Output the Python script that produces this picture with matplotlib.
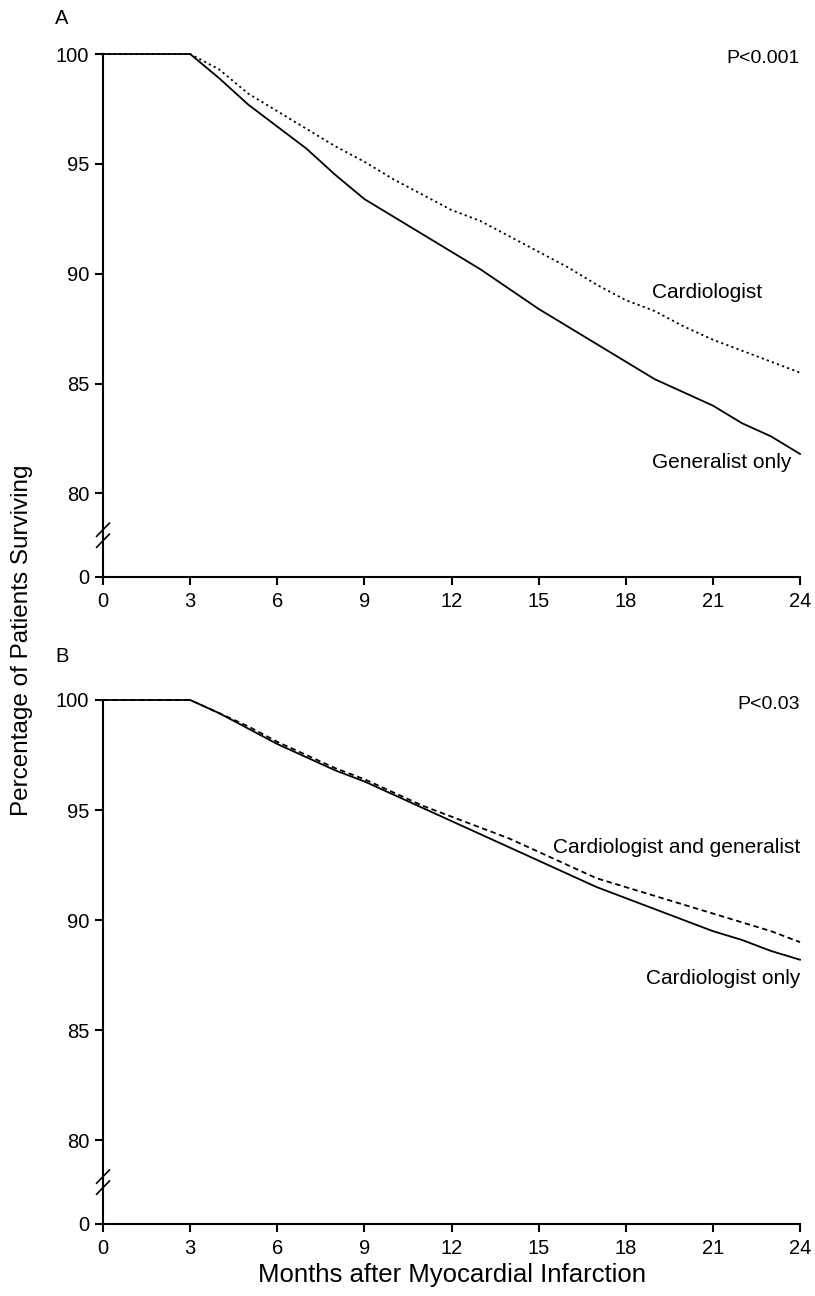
import numpy as np
import matplotlib
matplotlib.use("Agg")
import matplotlib.pyplot as plt

plt.rcParams['font.family'] = ['Liberation Sans', 'DejaVu Sans']

# months after MI
months = [0, 3, 4, 5, 6, 7, 8, 9, 10, 11, 12, 13, 14, 15, 16, 17, 18, 19, 20, 21, 22, 23, 24]

# Panel A: survival (%)
generalist_only = [100, 100, 98.9, 97.7, 96.7, 95.7, 94.5, 93.4, 92.6, 91.8, 91.0, 90.2,
                   89.3, 88.4, 87.6, 86.8, 86.0, 85.2, 84.6, 84.0, 83.2, 82.6, 81.8]
cardiologist = [100, 100, 99.3, 98.2, 97.4, 96.6, 95.8, 95.1, 94.3, 93.6, 92.9, 92.4,
                91.7, 91.0, 90.3, 89.5, 88.8, 88.3, 87.6, 87.0, 86.5, 86.0, 85.5]

# Panel B: survival (%)
cardiologist_only = [100, 100, 99.4, 98.7, 98.0, 97.4, 96.8, 96.3, 95.7, 95.1, 94.5, 93.9,
                     93.3, 92.7, 92.1, 91.5, 91.0, 90.5, 90.0, 89.5, 89.1, 88.6, 88.2]
cardio_and_gen = [100, 100, 99.4, 98.8, 98.1, 97.5, 96.9, 96.4, 95.8, 95.2, 94.7, 94.2,
                  93.7, 93.1, 92.5, 91.9, 91.5, 91.1, 90.7, 90.3, 89.9, 89.5, 89.0]

xticks = [0, 3, 6, 9, 12, 15, 18, 21, 24]
yticks = [80, 85, 90, 95, 100]
ybase = 76.2  # where the "0" of the broken axis sits


def setup_axis(ax):
    ax.set_xlim(0, 24)
    ax.set_ylim(ybase, 100)
    for s in ['top', 'right']:
        ax.spines[s].set_visible(False)
    for s in ['left', 'bottom']:
        ax.spines[s].set_linewidth(1.5)
    ax.set_xticks(xticks)
    ax.set_yticks([ybase] + yticks)
    ax.set_yticklabels(['0'] + [str(t) for t in yticks])
    ax.tick_params(axis='y', length=6, width=1.5, pad=4, labelsize=14.5)
    ax.tick_params(axis='x', length=6, width=1.5, pad=5, labelsize=14.5)
    # axis break marks
    for dy in (-0.25, 0.25):
        ax.plot([-0.22, 0.22], [78.1 + dy - 0.3, 78.1 + dy + 0.3], color='black',
                lw=1.2, clip_on=False)


fig = plt.figure(figsize=(8.15, 12.96), dpi=100)
axA = fig.add_axes([0.1264, 0.5548, 0.8552, 0.4035])
axB = fig.add_axes([0.1264, 0.0556, 0.8552, 0.4043])

# Panel A
axA.plot(months, generalist_only, color='black', lw=1.3, clip_on=False)
axA.plot(months, cardiologist, color='black', lw=1.3, linestyle=(0, (1.2, 1.8)), clip_on=False)
setup_axis(axA)
axA.text(18.9, 89.15, 'Cardiologist', fontsize=15, va='center', ha='left')
axA.text(18.9, 81.4, 'Generalist only', fontsize=15, va='center', ha='left')
axA.text(24, 99.8, 'P<0.001', fontsize=14, va='center', ha='right')

# Panel B
axB.plot(months, cardiologist_only, color='black', lw=1.3, clip_on=False)
axB.plot(months, cardio_and_gen, color='black', lw=1.3, linestyle=(0, (3, 2)), clip_on=False)
setup_axis(axB)
axB.text(24, 93.3, 'Cardiologist and generalist', fontsize=15, va='center', ha='right')
axB.text(24, 87.35, 'Cardiologist only', fontsize=15, va='center', ha='right')
axB.text(24, 99.8, 'P<0.03', fontsize=14, va='center', ha='right')

fig.text(55 / 815, 1 - 19 / 1296, 'A', fontsize=14.5, va='center', ha='left')
fig.text(55 / 815, 1 - 657 / 1296, 'B', fontsize=14.5, va='center', ha='left')
fig.text(22 / 815, 1 - 640 / 1296, 'Percentage of Patients Surviving', fontsize=17.5,
         rotation=90, va='center', ha='center')
fig.text(451.5 / 815, 1 - 1275 / 1296, 'Months after Myocardial Infarction', fontsize=18.5,
         va='center', ha='center')

fig.savefig('out.png', dpi=100)
